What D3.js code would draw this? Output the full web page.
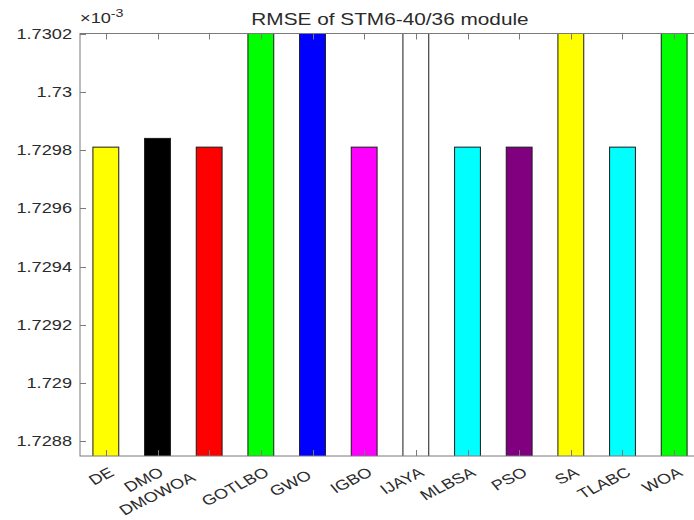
<!DOCTYPE html>
<html>
<head>
<meta charset="utf-8">
<script src="https://cdn.jsdelivr.net/npm/d3@7"></script>
<style>
  html, body { margin: 0; padding: 0; background: #fff; }
  svg { display: block; }
  text { font-family: "Liberation Sans", Arial, Helvetica, sans-serif; fill: #2b2b2b; }
</style>
</head>
<body>
<svg id="chart" width="694" height="520"></svg>
<script>
// Algorithms compared
const algorithms = ["DE", "DMO", "DMOWOA", "GOTLBO", "GWO", "IGBO", "IJAYA", "MLBSA", "PSO", "SA", "TLABC", "WOA"];
// RMSE values, in units of 1e-3
const rmse = [1.72981, 1.72984, 1.72981, 1.73045, 1.73060, 1.72981, 1.73030, 1.72981, 1.72981, 1.73035, 1.72981, 1.73070];
// Bar fill colours
const barColors = ["#ffff00", "#000000", "#ff0000", "#00ff00", "#0000ff", "#ff00ff", "#ffffff", "#00ffff", "#800080", "#ffff00", "#00ffff", "#00ff00"];
// Y axis ticks and their labels (x 10^-3)
const yTicks = [1.7288, 1.729, 1.7292, 1.7294, 1.7296, 1.7298, 1.73, 1.7302];
const yTickLabels = ["1.7288", "1.729", "1.7292", "1.7294", "1.7296", "1.7298", "1.73", "1.7302"];
const yLimits = [1.72875, 1.7302];
const titleText = "RMSE of STM6-40/36 module";

const svg = d3.select("#chart");
const plot = { left: 80, right: 700, top: 33.5, bottom: 456 };
const stretch = 1.3;          // horizontal widening of the lettering
const axisColor = "#7a7a7a";

const x = d3.scaleBand()
  .domain(algorithms)
  .range([plot.left, plot.right])
  .paddingInner(0.5)
  .paddingOuter(0.25);

const y = d3.scaleLinear().domain(yLimits).range([plot.bottom, plot.top]);

svg.append("defs").append("clipPath").attr("id", "plotClip")
  .append("rect")
  .attr("x", plot.left).attr("y", plot.top)
  .attr("width", plot.right - plot.left).attr("height", plot.bottom - plot.top);

// Bars
const rows = algorithms.map((a, i) => ({ name: a, value: rmse[i], color: barColors[i] }));
svg.append("g").attr("clip-path", "url(#plotClip)")
  .selectAll("rect").data(rows).join("rect")
  .attr("x", d => x(d.name))
  .attr("width", x.bandwidth())
  .attr("y", d => y(d.value))
  .attr("height", d => plot.bottom - y(d.value) + 2)
  .attr("fill", d => d.color)
  .attr("stroke", "#1a1a1a")
  .attr("stroke-width", 1);

// Axes box
const ax = svg.append("g").attr("fill", "none").attr("stroke", axisColor).attr("stroke-width", 1);
ax.append("rect")
  .attr("x", plot.left).attr("y", plot.top)
  .attr("width", plot.right - plot.left).attr("height", plot.bottom - plot.top);

// Y ticks (left and right, pointing inward)
const tickLen = 6;
yTicks.forEach(t => {
  const yy = Math.round(y(t)) + 0.5;
  ax.append("line").attr("x1", plot.left).attr("x2", plot.left + tickLen).attr("y1", yy).attr("y2", yy);
  ax.append("line").attr("x1", plot.right).attr("x2", plot.right - tickLen).attr("y1", yy).attr("y2", yy);
});

// X ticks (bottom and top, pointing inward)
algorithms.forEach(a => {
  const xx = Math.round(x(a) + x.bandwidth() / 2) + 0.5;
  ax.append("line").attr("x1", xx).attr("x2", xx).attr("y1", plot.bottom).attr("y2", plot.bottom - tickLen);
  ax.append("line").attr("x1", xx).attr("x2", xx).attr("y1", plot.top).attr("y2", plot.top + tickLen);
});

// Y tick labels
yTicks.forEach((t, i) => {
  svg.append("g")
    .attr("transform", `translate(${plot.left - 8},${y(t)}) scale(${stretch},1)`)
    .append("text")
    .attr("text-anchor", "end")
    .attr("dy", "0.36em")
    .attr("font-size", 14)
    .text(yTickLabels[i]);
});

// Exponent marker
const expo = svg.append("g")
  .attr("transform", `translate(${plot.left},23) scale(${stretch},1)`)
  .append("text").attr("font-size", 14);
expo.append("tspan").text("\u00d7");
expo.append("tspan").text("10");
expo.append("tspan").attr("font-size", 11).attr("dy", -6).text("-3");

// X tick labels, rotated; a few are offset to keep neighbours apart
const labelNudge = { DMO: [-2, 0], DMOWOA: [-22, 5], GWO: [-9, 3] };
algorithms.forEach(a => {
  const cx = x(a) + x.bandwidth() / 2 + 2;
  const [dx, dy] = labelNudge[a] || [0, 0];
  svg.append("g")
    .attr("transform", `translate(${cx + dx},${466 + dy}) scale(${stretch},1) rotate(-33)`)
    .append("text")
    .attr("text-anchor", "end")
    .attr("dy", "0.75em")
    .attr("font-size", 14)
    .text(a);
});

// Title
svg.append("g")
  .attr("transform", `translate(${(plot.left + plot.right) / 2},25) scale(${stretch},1)`)
  .append("text")
  .attr("text-anchor", "middle")
  .attr("font-size", 16)
  .text(titleText);
</script>
</body>
</html>
